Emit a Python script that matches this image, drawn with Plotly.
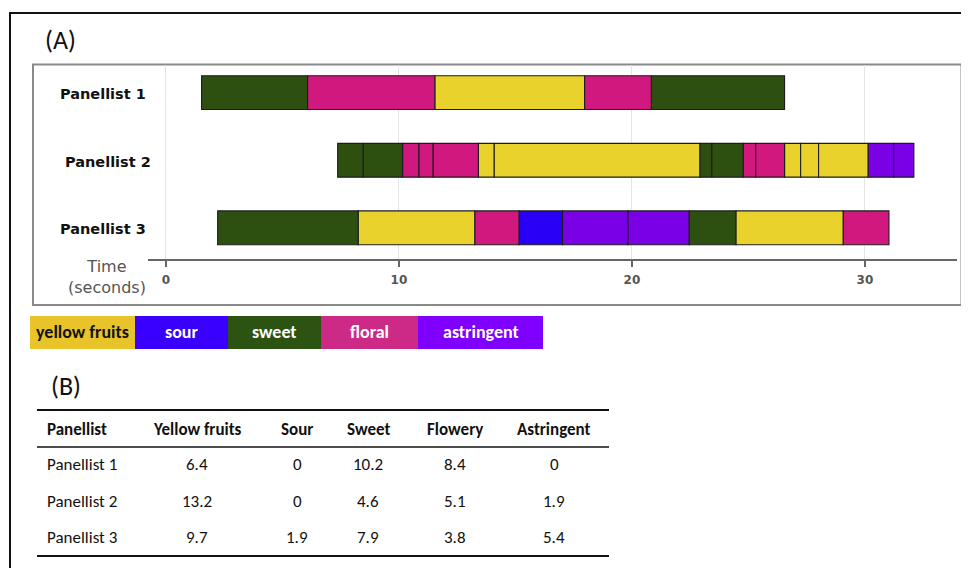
import plotly.graph_objects as go

# the page body has an 8px margin, so the figure is offset by 8px
OFF = 8
W, H = 969 - OFF, 568 - OFF

# ---------------- data ----------------
panellists = ["Panellist 1", "Panellist 2", "Panellist 3"]

# segment boundaries (seconds) and the attribute of each segment
p1_bounds = [1.53, 6.08, 11.54, 17.97, 20.83, 26.55]
p1_attrs = ["sweet", "floral", "yellow fruits", "floral", "sweet"]

p2_bounds = [7.37, 8.47, 10.16, 10.86, 11.47, 13.41, 14.09, 22.92, 23.43,
             24.78, 25.31, 26.55, 27.24, 28.01, 30.14, 31.23, 32.10]
p2_attrs = ["sweet", "sweet", "floral", "floral", "floral", "yellow fruits",
            "yellow fruits", "sweet", "sweet", "floral", "floral",
            "yellow fruits", "yellow fruits", "yellow fruits",
            "astringent", "astringent"]

p3_bounds = [2.22, 8.25, 13.26, 15.15, 17.02, 19.83, 22.45, 24.46, 29.07, 31.03]
p3_attrs = ["sweet", "yellow fruits", "floral", "sour", "astringent",
            "astringent", "sweet", "yellow fruits", "floral"]

x_ticks = [0, 10, 20, 30]

legend_labels = ["yellow fruits", "sour", "sweet", "floral", "astringent"]

table_header = ["Panellist", "Yellow fruits", "Sour", "Sweet", "Flowery", "Astringent"]
table_rows = ["Panellist 1", "Panellist 2", "Panellist 3"]
yellow_fruits = ["6.4", "13.2", "9.7"]
sour = ["0", "0", "1.9"]
sweet = ["10.2", "4.6", "7.9"]
flowery = ["8.4", "5.1", "3.8"]
astringent = ["0", "1.9", "5.4"]

# ---------------- styles ----------------
bar_colors = {"yellow fruits": "#ead22c", "sour": "#2a00f5", "sweet": "#2d5010",
              "floral": "#d1187f", "astringent": "#7a00e6"}
legend_colors = {"yellow fruits": "#e8c42a", "sour": "#3a00ff", "sweet": "#2d5312",
                 "floral": "#cc2a86", "astringent": "#8000ff"}
legend_text_colors = {"yellow fruits": "#111111", "sour": "white", "sweet": "white",
                      "floral": "white", "astringent": "white"}
TABLE_FONT = "Carlito, Lato, sans-serif"
label_right_px = [148, 153, 148]


def px(x):
    return (x - OFF) / W


def py(y):
    return 1 - (y - OFF) / H


row_y = [3, 2, 1]

fig = go.Figure()

segs = {a: {"y": [], "base": [], "x": []} for a in legend_labels}
for yv, bounds, attrs in zip(row_y, [p1_bounds, p2_bounds, p3_bounds],
                             [p1_attrs, p2_attrs, p3_attrs]):
    for i, a in enumerate(attrs):
        segs[a]["y"].append(yv)
        segs[a]["base"].append(bounds[i])
        segs[a]["x"].append(bounds[i + 1] - bounds[i])

for a in legend_labels:
    s = segs[a]
    if not s["x"]:
        continue
    fig.add_trace(go.Bar(
        orientation="h", y=s["y"], x=s["x"], base=s["base"], width=0.5,
        marker=dict(color=bar_colors[a], line=dict(color="#1c1c1c", width=1.1)),
        name=a, showlegend=False,
    ))

annotations = []
shapes = []

for name, yv, rx in zip(panellists, row_y, label_right_px):
    annotations.append(dict(
        x=px(rx), xref="paper", y=yv - 0.02, yref="y", text=name,
        showarrow=False, xanchor="right", yanchor="middle",
        font=dict(family="DejaVu Sans", size=14.5, color="#111", weight="bold")))

annotations.append(dict(
    x=px(107), y=py(277), xref="paper", yref="paper",
    text="Time<br>(seconds)", showarrow=False, xanchor="center", yanchor="middle",
    font=dict(family="DejaVu Sans", size=16, color="#555")))

annotations.append(dict(
    x=px(43), y=py(40), xref="paper", yref="paper", text="(A)", showarrow=False,
    xanchor="left", yanchor="middle",
    font=dict(family=TABLE_FONT, size=26, color="#111")))
annotations.append(dict(
    x=px(49), y=py(386), xref="paper", yref="paper", text="(B)", showarrow=False,
    xanchor="left", yanchor="middle",
    font=dict(family=TABLE_FONT, size=26, color="#111")))

shapes.append(dict(type="rect", xref="paper", yref="paper",
                   x0=px(33), x1=px(961.5), y0=py(305), y1=py(64.5),
                   line=dict(color="#8a8a8a", width=2), layer="below"))
shapes.append(dict(type="rect", xref="paper", yref="paper",
                   x0=px(10), x1=1.1, y0=-0.1, y1=py(13),
                   line=dict(color="#111", width=2)))

leg_edges = [30, 135, 228, 321, 418, 543]
for i, a in enumerate(legend_labels):
    x0, x1 = leg_edges[i], leg_edges[i + 1]
    shapes.append(dict(type="rect", xref="paper", yref="paper",
                       x0=px(x0), x1=px(x1), y0=py(349), y1=py(316),
                       line=dict(width=0), fillcolor=legend_colors[a]))
    annotations.append(dict(
        x=px((x0 + x1) / 2), y=py(332), xref="paper", yref="paper", text=a,
        showarrow=False, xanchor="center", yanchor="middle",
        font=dict(family=TABLE_FONT, size=18,
                  color=legend_text_colors[a], weight="bold")))

col_x = [45, 197, 297, 368, 455, 554]
header_y = 429
row_ys = [464, 501, 537]
for j, h in enumerate(table_header):
    annotations.append(dict(
        x=px(col_x[j]), y=py(header_y), xref="paper", yref="paper", text=h,
        showarrow=False, xanchor="left" if j == 0 else "center", yanchor="middle",
        font=dict(family=TABLE_FONT, size=17, color="#111", weight="bold")))
columns = [table_rows, yellow_fruits, sour, sweet, flowery, astringent]
for i, ry in enumerate(row_ys):
    for j, col in enumerate(columns):
        annotations.append(dict(
            x=px(col_x[j]), y=py(ry), xref="paper", yref="paper", text=col[i],
            showarrow=False, xanchor="left" if j == 0 else "center",
            yanchor="middle",
            font=dict(family=TABLE_FONT, size=17, color="#111")))
for ly, lw in [(410, 2), (447, 1.5), (556, 2)]:
    shapes.append(dict(type="line", xref="paper", yref="paper",
                       x0=px(37), x1=px(609), y0=py(ly), y1=py(ly),
                       line=dict(color="#111", width=lw)))

fig.update_layout(
    width=W, height=H, margin=dict(l=0, r=0, t=0, b=0),
    paper_bgcolor="white", plot_bgcolor="white",
    barmode="overlay", showlegend=False,
    annotations=annotations, shapes=shapes,
    xaxis=dict(domain=[px(148), px(957)], range=[-0.77, 33.95],
               tickvals=x_ticks, ticktext=[str(t) for t in x_ticks],
               showgrid=True, gridcolor="#e4e4e4", gridwidth=1,
               showline=True, linecolor="#666", linewidth=1.5,
               ticks="outside", ticklen=6, tickwidth=2, tickcolor="#666",
               ticklabelstandoff=3,
               tickfont=dict(family="DejaVu Sans", size=12, color="#555",
                             weight="bold"),
               zeroline=False, fixedrange=True),
    yaxis=dict(domain=[py(259.3), py(64.5)], range=[0.534, 3.417],
               showgrid=False, zeroline=False, showticklabels=False,
               showline=False, ticks="", fixedrange=True),
)

fig.write_html("out.html")
